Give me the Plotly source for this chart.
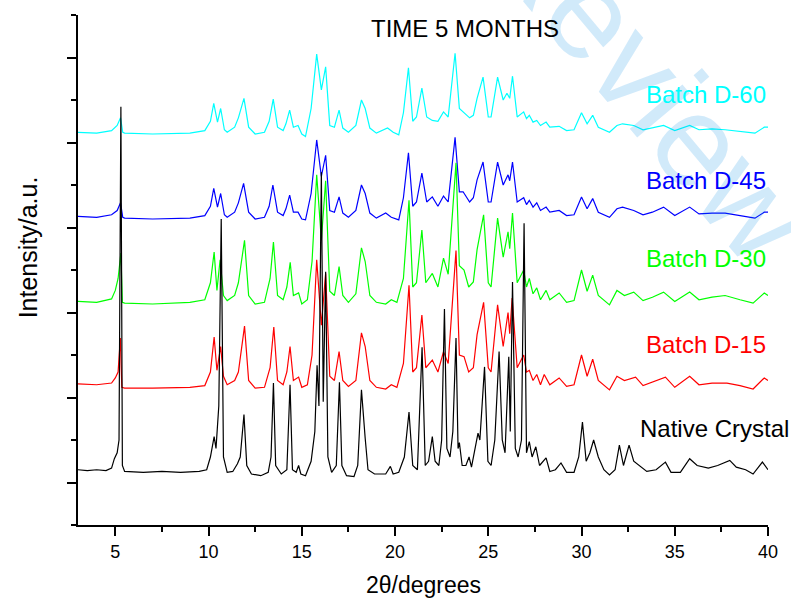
import plotly.graph_objects as go

# Powder XRD patterns, (2theta in degrees, intensity in a.u.) read per pattern
native_crystal = [
    (3.0, 0.15), (3.5, 0.14), (4.0, 0.15), (4.5, 0.14), (4.8, 0.17), (4.95, 0.28), (5.1, 0.35),
    (5.2, 0.5), (5.3, 4.42), (5.38, 0.2), (5.5, 0.13), (6.5, 0.12), (7.5, 0.13), (8.5, 0.12),
    (9.5, 0.13), (9.9, 0.15), (10.1, 0.3), (10.3, 0.54), (10.4, 0.4), (10.55, 0.9), (10.68, 3.1),
    (10.8, 0.3), (11.0, 0.12), (11.3, 0.13), (11.55, 0.22), (11.7, 0.3), (11.9, 0.8), (12.05, 0.2),
    (12.3, 0.1), (12.8, 0.08), (13.2, 0.12), (13.35, 0.3), (13.48, 1.17), (13.6, 0.2), (13.9, 0.1),
    (14.2, 0.15), (14.37, 1.15), (14.5, 0.15), (14.7, 0.12), (14.83, 0.2), (14.95, 0.1), (15.2, 0.08),
    (15.5, 0.25), (15.7, 0.6), (15.82, 1.38), (15.92, 0.9), (16.05, 3.65), (16.15, 0.95), (16.28, 2.48),
    (16.4, 0.3), (16.6, 0.12), (16.85, 0.2), (17.02, 1.18), (17.15, 0.2), (17.4, 0.08), (17.8, 0.07),
    (18.0, 0.2), (18.2, 1.09), (18.4, 0.52), (18.55, 0.15), (18.9, 0.1), (19.5, 0.1), (19.75, 0.19),
    (19.9, 0.1), (20.2, 0.12), (20.5, 0.3), (20.75, 0.83), (20.95, 0.2), (21.2, 0.15), (21.45, 1.59),
    (21.62, 0.2), (21.8, 0.25), (22.0, 0.54), (22.15, 0.25), (22.35, 0.2), (22.5, 0.5), (22.65, 2.04),
    (22.78, 0.4), (22.95, 0.3), (23.1, 0.6), (23.27, 1.7), (23.38, 0.4), (23.45, 0.47), (23.6, 0.2),
    (23.8, 0.2), (23.97, 0.3), (24.1, 0.18), (24.3, 0.4), (24.45, 0.58), (24.55, 0.5), (24.8, 1.36),
    (24.98, 0.25), (25.15, 0.2), (25.35, 0.5), (25.58, 1.54), (25.75, 0.5), (25.9, 0.35), (26.1, 1.48),
    (26.18, 0.6), (26.3, 2.36), (26.45, 0.4), (26.6, 0.3), (26.78, 0.5), (26.92, 3.05), (27.05, 0.35),
    (27.2, 0.48), (27.35, 0.3), (27.55, 0.42), (27.75, 0.2), (28.1, 0.29), (28.3, 0.13), (28.6, 0.15),
    (28.9, 0.23), (29.2, 0.12), (29.6, 0.12), (29.85, 0.3), (30.05, 0.71), (30.25, 0.25), (30.45, 0.35),
    (30.65, 0.5), (30.9, 0.3), (31.2, 0.15), (31.5, 0.09), (31.8, 0.15), (32.03, 0.44), (32.25, 0.2),
    (32.55, 0.44), (32.8, 0.25), (33.1, 0.2), (33.5, 0.13), (34.0, 0.15), (34.5, 0.24), (34.8, 0.12),
    (35.3, 0.12), (35.8, 0.28), (36.2, 0.2), (36.8, 0.17), (37.3, 0.2), (37.95, 0.26), (38.3, 0.18),
    (38.8, 0.15), (39.2, 0.1), (39.7, 0.24), (40.0, 0.15),
]

batch_d15 = [
    (3.0, 0.18), (4.0, 0.17), (4.8, 0.19), (5.0, 0.25), (5.15, 0.32), (5.27, 0.72), (5.35, 0.14),
    (5.5, 0.13), (7.0, 0.13), (9.0, 0.14), (9.8, 0.16), (10.1, 0.32), (10.3, 0.73), (10.45, 0.34),
    (10.65, 0.62), (10.8, 0.27), (11.0, 0.17), (11.4, 0.22), (11.6, 0.32), (11.93, 0.86), (12.15, 0.22),
    (12.5, 0.13), (13.0, 0.14), (13.3, 0.37), (13.5, 0.85), (13.7, 0.22), (14.0, 0.17), (14.2, 0.32),
    (14.37, 0.62), (14.55, 0.22), (14.83, 0.26), (15.0, 0.14), (15.3, 0.17), (15.55, 0.52), (15.8, 1.64),
    (16.05, 0.87), (16.28, 1.48), (16.5, 0.27), (16.75, 0.22), (17.0, 0.56), (17.2, 0.22), (17.5, 0.15),
    (17.9, 0.22), (18.2, 0.78), (18.4, 0.62), (18.65, 0.22), (19.0, 0.14), (19.5, 0.12), (19.8, 0.17),
    (20.1, 0.14), (20.45, 0.42), (20.75, 1.34), (20.95, 0.32), (21.15, 0.37), (21.44, 0.99), (21.65, 0.37),
    (22.0, 0.46), (22.3, 0.32), (22.6, 0.56), (22.85, 0.42), (23.27, 1.75), (23.45, 0.52), (23.7, 0.5),
    (23.95, 0.32), (24.2, 0.37), (24.4, 0.76), (24.75, 1.14), (25.0, 0.37), (25.15, 0.32), (25.5, 1.11),
    (25.8, 0.62), (26.06, 1.02), (26.15, 0.77), (26.28, 1.19), (26.55, 0.37), (26.9, 0.52), (27.05, 0.32),
    (27.2, 0.34), (27.4, 0.22), (27.6, 0.29), (27.8, 0.17), (28.0, 0.29), (28.3, 0.17), (28.8, 0.25),
    (29.2, 0.15), (29.6, 0.17), (30.0, 0.52), (30.3, 0.27), (30.6, 0.47), (30.9, 0.22), (31.5, 0.11),
    (31.9, 0.27), (32.3, 0.22), (32.9, 0.26), (33.3, 0.16), (33.8, 0.2), (34.5, 0.26), (35.0, 0.14),
    (35.8, 0.27), (36.3, 0.17), (37.0, 0.19), (37.8, 0.19), (38.5, 0.16), (39.2, 0.12), (39.8, 0.25),
    (40.0, 0.22),
]

batch_d30 = [
    (3.0, 0.16), (4.0, 0.15), (4.8, 0.19), (5.0, 0.29), (5.15, 0.43), (5.3, 0.73), (5.38, 0.15),
    (5.5, 0.14), (7.0, 0.13), (9.0, 0.15), (9.8, 0.18), (10.1, 0.38), (10.3, 0.74), (10.45, 0.29),
    (10.62, 0.65), (10.8, 0.23), (11.0, 0.17), (11.4, 0.23), (11.6, 0.38), (11.93, 0.88), (12.15, 0.23),
    (12.5, 0.13), (13.0, 0.15), (13.3, 0.43), (13.48, 0.86), (13.7, 0.23), (14.0, 0.18), (14.2, 0.33),
    (14.38, 0.62), (14.55, 0.23), (14.83, 0.26), (15.0, 0.13), (15.3, 0.18), (15.55, 0.63), (15.8, 1.65),
    (16.05, 0.88), (16.28, 1.58), (16.5, 0.28), (16.75, 0.23), (17.0, 0.57), (17.2, 0.23), (17.5, 0.15),
    (17.9, 0.25), (18.2, 0.79), (18.4, 0.63), (18.65, 0.23), (19.0, 0.15), (19.5, 0.13), (19.8, 0.18),
    (20.1, 0.15), (20.45, 0.43), (20.75, 1.35), (20.95, 0.33), (21.15, 0.38), (21.44, 1.0), (21.65, 0.38),
    (22.0, 0.49), (22.3, 0.33), (22.6, 0.67), (22.85, 0.48), (23.27, 1.79), (23.45, 0.58), (23.7, 0.53),
    (23.95, 0.33), (24.2, 0.39), (24.4, 0.77), (24.75, 1.18), (25.0, 0.38), (25.15, 0.33), (25.5, 1.14),
    (25.8, 0.68), (26.06, 0.98), (26.15, 0.78), (26.3, 1.2), (26.55, 0.38), (26.9, 0.53), (27.05, 0.33),
    (27.2, 0.43), (27.4, 0.25), (27.6, 0.32), (27.8, 0.18), (28.1, 0.29), (28.3, 0.18), (28.8, 0.26),
    (29.2, 0.15), (29.6, 0.17), (30.0, 0.53), (30.3, 0.28), (30.6, 0.47), (30.9, 0.23), (31.5, 0.12),
    (31.9, 0.29), (32.3, 0.23), (32.8, 0.27), (33.3, 0.17), (33.8, 0.21), (34.4, 0.27), (35.0, 0.16),
    (35.8, 0.27), (36.3, 0.18), (37.0, 0.21), (37.7, 0.23), (38.5, 0.18), (39.2, 0.14), (39.8, 0.26),
    (40.0, 0.23),
]

batch_d45 = [
    (3.0, 0.17), (4.0, 0.16), (4.8, 0.19), (5.1, 0.24), (5.28, 0.33), (5.4, 0.16), (5.5, 0.15),
    (7.0, 0.14), (9.0, 0.15), (9.8, 0.18), (10.1, 0.29), (10.28, 0.5), (10.48, 0.28), (10.65, 0.44),
    (10.85, 0.19), (11.0, 0.16), (11.4, 0.22), (11.6, 0.33), (11.88, 0.56), (12.15, 0.22), (12.5, 0.14),
    (13.0, 0.16), (13.25, 0.29), (13.45, 0.54), (13.7, 0.22), (14.0, 0.18), (14.15, 0.26), (14.35, 0.42),
    (14.55, 0.22), (14.8, 0.22), (15.0, 0.14), (15.2, 0.13), (15.5, 0.44), (15.8, 1.07), (16.05, 0.64),
    (16.28, 0.89), (16.5, 0.24), (16.75, 0.22), (17.0, 0.4), (17.2, 0.21), (17.5, 0.16), (17.9, 0.24),
    (18.2, 0.54), (18.4, 0.44), (18.65, 0.21), (19.0, 0.15), (19.5, 0.21), (19.8, 0.16), (20.2, 0.13),
    (20.45, 0.39), (20.72, 0.92), (20.95, 0.29), (21.15, 0.34), (21.44, 0.68), (21.7, 0.34), (22.0, 0.4),
    (22.3, 0.29), (22.6, 0.41), (22.85, 0.34), (23.22, 1.1), (23.45, 0.46), (23.65, 0.46), (24.0, 0.34),
    (24.2, 0.39), (24.4, 0.6), (24.72, 0.81), (25.0, 0.34), (25.15, 0.34), (25.5, 0.81), (25.8, 0.54),
    (26.06, 0.66), (26.15, 0.59), (26.3, 0.81), (26.55, 0.34), (26.9, 0.39), (27.05, 0.31), (27.2, 0.36),
    (27.4, 0.28), (27.6, 0.33), (27.8, 0.24), (28.1, 0.28), (28.3, 0.22), (28.8, 0.24), (29.2, 0.18),
    (29.6, 0.19), (30.0, 0.4), (30.3, 0.26), (30.6, 0.38), (30.9, 0.22), (31.5, 0.16), (31.9, 0.26),
    (32.2, 0.28), (32.8, 0.24), (33.3, 0.19), (33.8, 0.22), (34.4, 0.28), (35.0, 0.18), (35.8, 0.28),
    (36.3, 0.2), (37.0, 0.21), (37.7, 0.21), (38.5, 0.18), (39.3, 0.15), (39.8, 0.22), (40.0, 0.22),
]

batch_d60 = [
    (3.0, 0.16), (4.0, 0.15), (4.8, 0.18), (5.1, 0.24), (5.28, 0.33), (5.4, 0.16), (5.5, 0.15),
    (7.0, 0.14), (9.0, 0.15), (9.8, 0.18), (10.1, 0.29), (10.28, 0.5), (10.48, 0.28), (10.65, 0.44),
    (10.85, 0.19), (11.0, 0.16), (11.4, 0.22), (11.6, 0.33), (11.9, 0.56), (12.15, 0.22), (12.5, 0.14),
    (13.0, 0.16), (13.25, 0.29), (13.47, 0.55), (13.7, 0.22), (14.0, 0.18), (14.15, 0.26), (14.35, 0.42),
    (14.55, 0.22), (14.8, 0.24), (15.0, 0.14), (15.2, 0.11), (15.5, 0.44), (15.8, 1.08), (16.05, 0.66),
    (16.28, 0.93), (16.5, 0.24), (16.75, 0.22), (17.0, 0.42), (17.2, 0.21), (17.5, 0.16), (17.9, 0.24),
    (18.2, 0.54), (18.4, 0.44), (18.65, 0.21), (19.0, 0.15), (19.6, 0.21), (19.9, 0.16), (20.2, 0.13),
    (20.45, 0.39), (20.72, 0.92), (20.95, 0.29), (21.15, 0.34), (21.44, 0.68), (21.7, 0.34), (22.0, 0.3),
    (22.3, 0.29), (22.6, 0.4), (22.85, 0.34), (23.22, 1.09), (23.45, 0.44), (23.65, 0.4), (24.0, 0.33),
    (24.2, 0.36), (24.4, 0.56), (24.72, 0.81), (25.0, 0.34), (25.15, 0.34), (25.5, 0.81), (25.8, 0.54),
    (26.0, 0.62), (26.15, 0.56), (26.3, 0.82), (26.55, 0.34), (26.9, 0.4), (27.05, 0.32), (27.2, 0.36),
    (27.4, 0.28), (27.6, 0.3), (27.8, 0.24), (28.1, 0.28), (28.3, 0.22), (28.8, 0.23), (29.2, 0.18),
    (29.6, 0.19), (30.0, 0.39), (30.3, 0.26), (30.6, 0.36), (30.9, 0.22), (31.5, 0.16), (31.9, 0.24),
    (32.2, 0.26), (32.8, 0.24), (33.3, 0.19), (33.8, 0.21), (34.4, 0.24), (35.0, 0.18), (35.8, 0.24),
    (36.3, 0.19), (37.0, 0.2), (37.7, 0.19), (38.5, 0.17), (39.3, 0.15), (39.8, 0.22), (40.0, 0.22),
]

series_names = ["Batch D-60", "Batch D-45", "Batch D-30", "Batch D-15", "Native Crystal"]
series_data = [batch_d60, batch_d45, batch_d30, batch_d15, native_crystal]
series_colors = ["#00FFFF", "#0000FF", "#00FF00", "#FF0000", "#000000"]
# vertical stacking offset of each pattern (a.u.)
stack_offsets = [3.96, 2.96, 1.97, 0.98, 0.0]
# height (a.u.) at which each pattern's label sits
label_levels = [4.56, 3.55, 2.64, 1.62, 0.64]

FONT = "Liberation Sans, Arial, sans-serif"

fig = go.Figure()
for name, data, color, off in zip(series_names, series_data, series_colors, stack_offsets):
    tt = [p[0] for p in data]
    inten = [p[1] + off for p in data]
    fig.add_trace(go.Scatter(
        x=tt, y=inten, mode="lines", name=name,
        line=dict(color=color, width=1.2),
        showlegend=False, hoverinfo="skip",
    ))

annotations = [
    # faint diagonal watermark, drawn first so labels sit above it
    dict(x=0.826, xref="paper", y=0.873, yref="paper", xanchor="center", yanchor="middle",
         textangle=50, text="Review", showarrow=False,
         font=dict(family=FONT, size=130, color="rgba(0,140,230,0.18)")),
]
for name, color, lvl in zip(series_names, series_colors, label_levels):
    annotations.append(dict(
        x=1.0 if name != "Native Crystal" else 1.033, xref="paper", y=lvl, yref="y",
        text=name, showarrow=False, xanchor="right", yanchor="middle",
        font=dict(family=FONT, size=24, color=color),
    ))

annotations += [
    dict(x=0.561, xref="paper", y=1.0, yref="paper", yshift=-13, text="TIME 5 MONTHS",
         showarrow=False, xanchor="center", yanchor="middle",
         font=dict(family=FONT, size=24, color="black")),
    dict(x=0.5, xref="paper", y=-0.118, yref="paper", yanchor="middle",
         text="2\u03b8/degrees", showarrow=False,
         font=dict(family=FONT, size=23, color="black")),
    dict(x=-0.072, xref="paper", y=0.545, yref="paper", xanchor="center", yanchor="middle",
         textangle=-90, text="Intensity/a.u.", showarrow=False,
         font=dict(family=FONT, size=25, color="black")),
]

fig.update_layout(
    width=791, height=603,
    margin=dict(l=78, r=23, t=15, b=78),
    paper_bgcolor="white", plot_bgcolor="white",
    annotations=annotations,
    xaxis=dict(
        range=[3, 40], showgrid=False, zeroline=False,
        showline=True, linecolor="black", linewidth=2,
        ticks="outside", ticklen=9, tickwidth=1.5, tickcolor="black",
        tick0=0, dtick=5,
        minor=dict(ticks="outside", ticklen=5, tickwidth=1.5, tickcolor="black", dtick=2.5, tick0=0),
        tickfont=dict(family=FONT, size=18, color="black"),
    ),
    yaxis=dict(
        range=[-0.5, 5.5], showgrid=False, zeroline=False,
        showline=True, linecolor="black", linewidth=2,
        ticks="outside", ticklen=9, tickwidth=1.5, tickcolor="black",
        tick0=0, dtick=1, showticklabels=False,
        minor=dict(ticks="outside", ticklen=5, tickwidth=1.5, tickcolor="black", dtick=0.5, tick0=0),
    ),
)

fig.write_html("out.html")
